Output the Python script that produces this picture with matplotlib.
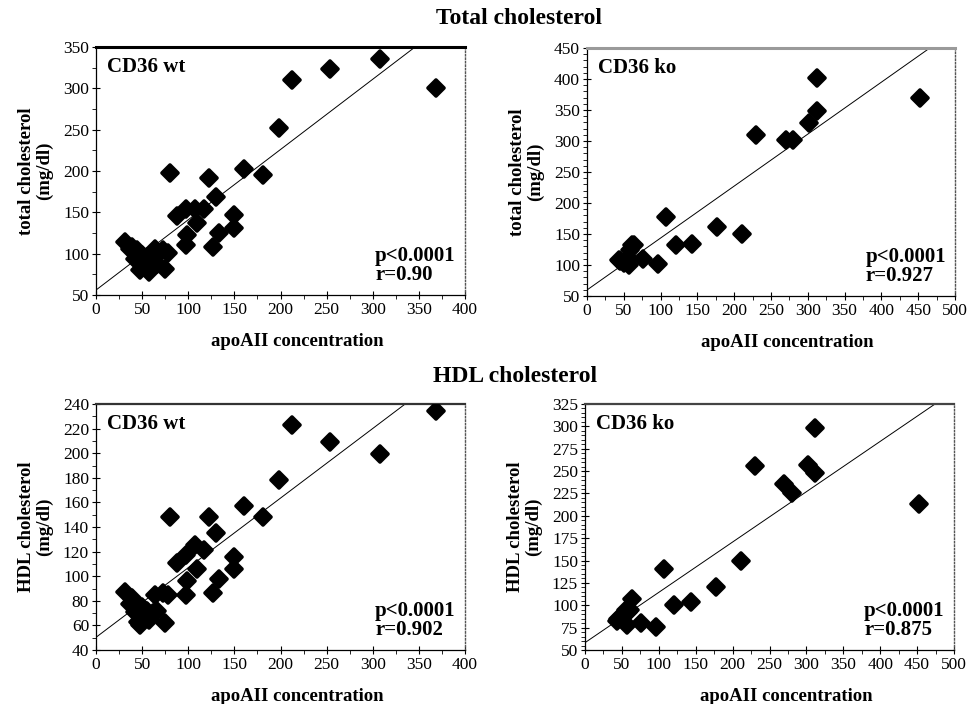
import matplotlib
matplotlib.use("Agg")
import matplotlib.pyplot as plt
from matplotlib.ticker import MultipleLocator
from matplotlib.markers import MarkerStyle
import numpy as np

plt.rcParams['font.family'] = ['Liberation Serif', 'DejaVu Serif']

# ---------------- data ----------------
wt_apoAII = [31, 37, 39, 42, 44, 46, 48, 50, 53, 55, 57, 58, 62, 64, 66, 73, 75, 78, 80,
             88, 98, 98, 99, 107, 109, 117, 122, 127, 130, 133, 150, 150, 160, 181,
             198, 213, 254, 308, 369]
wt_total = [114, 106, 108, 94, 104, 92, 80, 98, 86, 96, 78, 92, 94, 106, 88, 104, 81, 101, 197,
            146, 154, 111, 122, 154, 137, 154, 191, 108, 169, 125, 147, 131, 203, 195,
            252, 310, 323, 336, 300]
wt_hdl = [87, 77, 82, 71, 76, 63, 60, 75, 70, 72, 64, 68, 70, 85, 72, 86, 62, 85, 148,
          111, 117, 85, 96, 125, 106, 121, 148, 86, 135, 98, 116, 106, 157, 148,
          178, 223, 209, 199, 234]

ko_apoAII = [43, 45, 50, 56, 57, 58, 61, 64, 76, 96, 107, 121, 143, 177, 211, 230,
             270, 280, 302, 312, 312, 452]
ko_total = [108, 106, 104, 111, 100, 124, 132, 133, 109, 101, 177, 132, 134, 161, 150, 310,
            302, 302, 329, 349, 402, 370]
ko_hdl = [82, 85, 88, 95, 78, 92, 95, 107, 80, 76, 141, 100, 104, 120, 149, 256,
          236, 225, 257, 248, 298, 213]

# regression lines (intercept, slope)
fit_wt_total = (56.0, 0.850)
fit_ko_total = (59.7, 0.838)
fit_wt_hdl = (50.3, 0.566)
fit_ko_hdl = (58.2, 0.5625)

stats_wt_total = "p<0.0001\nr=0.90"
stats_ko_total = "p<0.0001\nr=0.927"
stats_wt_hdl = "p<0.0001\nr=0.902"
stats_ko_hdl = "p<0.0001\nr=0.875"

# ---------------- figure ----------------
W, H = 967, 704
fig = plt.figure(figsize=(W / 100, H / 100), dpi=100)
fig.patch.set_facecolor('white')

diamond = MarkerStyle('D', joinstyle='round')


def make_ax(left, top, right, bottom):
    return fig.add_axes([left / W, 1 - bottom / H, (right - left) / W, (bottom - top) / H])


def panel(ax, x, y, fit, stats, label, xmax, ymin, ymax, ymaj, ymin_step,
          ylabel, top_color, top_lw):
    ax.plot(x, y, linestyle='none', marker=diamond, markersize=8, color='black',
            markeredgewidth=2.6, markeredgecolor='black', zorder=3)
    xs = np.array([0, xmax])
    ax.plot(xs, fit[0] + fit[1] * xs, color='black', lw=0.7, zorder=2)
    ax.set_xlim(0, xmax)
    ax.set_ylim(ymin, ymax)
    ax.xaxis.set_major_locator(MultipleLocator(50))
    ax.xaxis.set_minor_locator(MultipleLocator(25))
    ax.yaxis.set_major_locator(MultipleLocator(ymaj))
    ax.yaxis.set_minor_locator(MultipleLocator(ymin_step))
    ax.tick_params(which='major', direction='inout', length=6, width=0.8,
                   labelsize=12.5, pad=2)
    ax.tick_params(which='minor', direction='out', length=3, width=0.6)
    for s in ['left', 'bottom']:
        ax.spines[s].set_linewidth(0.9)
    ax.spines['top'].set_color(top_color)
    ax.spines['top'].set_linewidth(top_lw)
    ax.spines['right'].set_linestyle((0, (1, 1.5)))
    ax.spines['right'].set_color('#555555')
    ax.spines['right'].set_linewidth(1.0)
    ax.text(0.03, 0.96, label, transform=ax.transAxes, fontsize=15,
            fontweight='bold', ha='left', va='top')
    ax.text(0.975, 0.04, stats, transform=ax.transAxes, fontsize=15,
            fontweight='bold', ha='right', va='bottom', linespacing=0.95,
            multialignment='left')
    ax.set_xlabel('apoAII concentration', fontsize=13.5, fontweight='bold', labelpad=6)
    ax.xaxis.set_label_coords(0.545, -0.155)
    ax.set_ylabel(ylabel, fontsize=13.5, fontweight='bold', linespacing=1.05, labelpad=7)


ax1 = make_ax(96, 47, 465, 295)
panel(ax1, wt_apoAII, wt_total, fit_wt_total, stats_wt_total, 'CD36 wt', 400,
      50, 350, 50, 25, 'total cholesterol\n(mg/dl)', 'black', 2.2)

ax2 = make_ax(587, 48, 955, 296)
panel(ax2, ko_apoAII, ko_total, fit_ko_total, stats_ko_total, 'CD36 ko', 500,
      50, 450, 50, 10, 'total cholesterol\n(mg/dl)', '#9a9a9a', 2.2)

ax3 = make_ax(96, 404, 465, 650)
panel(ax3, wt_apoAII, wt_hdl, fit_wt_hdl, stats_wt_hdl, 'CD36 wt', 400,
      40, 240, 20, 10, 'HDL cholesterol\n(mg/dl)', '#333333', 1.6)

ax4 = make_ax(585, 404, 954, 650)
panel(ax4, ko_apoAII, ko_hdl, fit_ko_hdl, stats_ko_hdl, 'CD36 ko', 500,
      50, 325, 25, 5, 'HDL cholesterol\n(mg/dl)', '#444444', 1.6)

fig.text(0.537, 1 - 18 / H, 'Total cholesterol', fontsize=17, fontweight='bold',
         ha='center', va='center')
fig.text(0.533, 1 - 377 / H, 'HDL cholesterol', fontsize=17, fontweight='bold',
         ha='center', va='center')

fig.savefig('out.png', dpi=100, facecolor='white')
